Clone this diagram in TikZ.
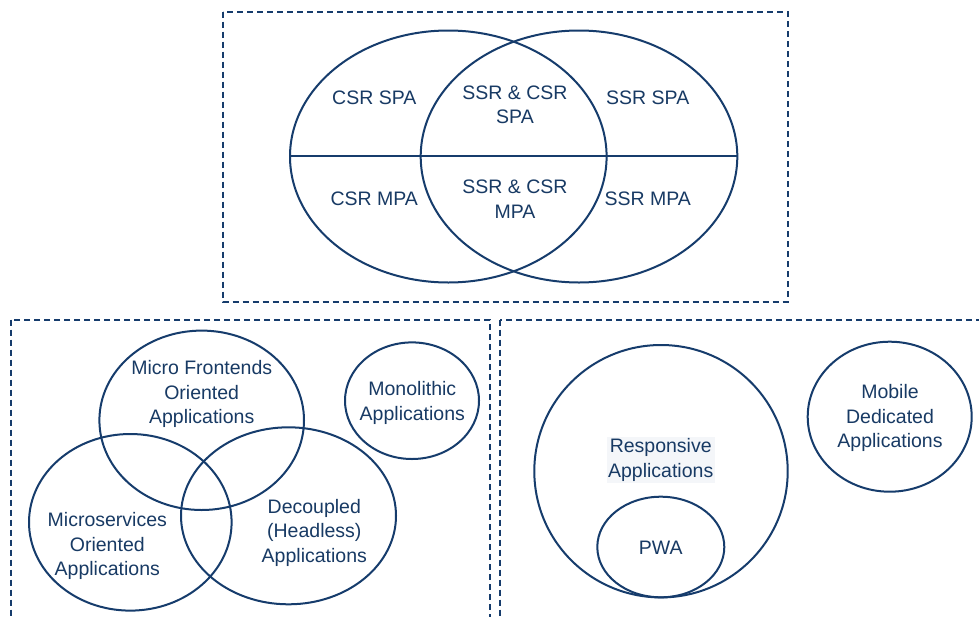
\documentclass[tikz,border=0pt]{standalone}
\usepackage{fontspec}
\setmainfont{Liberation Sans}
\definecolor{navy}{RGB}{22,60,108}
\definecolor{txt}{RGB}{24,58,100}
\definecolor{hl}{RGB}{244,246,249}
\tikzset{
  venn/.style={draw=navy, line width=2pt},
  frame/.style={draw=navy, line width=2pt, dash pattern=on 6pt off 4pt},
  lbl/.style={text=txt, align=center, inner sep=0pt, font=\fontsize{19.5}{24.5}\selectfont}
}
\begin{document}
\begin{tikzpicture}[x=1pt,y=-1pt]
\useasboundingbox (0,0) rectangle (979,616);
\clip (0,0) rectangle (979,616);
\fill[white] (0,0) rectangle (979,616);
% frames
\draw[frame] (222.5,11.5) rectangle (787.5,301.5);
\draw[frame] (11,319.5) rectangle (490,640);
\draw[frame] (499.5,319.5) rectangle (1000,640);
% top venn
\draw[venn] (448.3,156.5) ellipse [x radius=158.3, y radius=126];
\draw[venn] (579,156.5) ellipse [x radius=158.3, y radius=126];
\coordinate (hl) at (290,156);
\coordinate (hr) at (737.3,156);
\draw[venn] (hl) -- (hr);
\node[lbl] (csrspa) at (374.3,97.3) {CSR SPA};
\node[lbl] (csrmpa) at (374.3,199) {CSR MPA};
\node[lbl] (bothspa) at (515,104.7) {SSR \& CSR\\SPA};
\node[lbl] (bothmpa) at (515,199) {SSR \& CSR\\MPA};
\node[lbl] (ssrspa) at (647.7,97.3) {SSR SPA};
\node[lbl] (ssrmpa) at (647.7,199) {SSR MPA};
% bottom left
\draw[venn] (201.7,420.3) ellipse [x radius=102.3, y radius=89.7];
\draw[venn] (130.3,522.3) ellipse [x radius=101.3, y radius=88.3];
\draw[venn] (288.5,515.8) ellipse [x radius=107.5, y radius=88.5];
\draw[venn] (412,400.7) ellipse [x radius=67, y radius=58.3];
\node[lbl] (mfe) at (201.7,394) {Micro Frontends\\Oriented\\Applications};
\node[lbl] (mono) at (412.3,402.8) {Monolithic\\Applications};
\node[lbl] (ms) at (107.3,546.2) {Microservices\\Oriented\\Applications};
\node[lbl] (dec) at (314.3,532.9) {Decoupled\\(Headless)\\Applications};
% bottom right
\draw[venn] (661,471.2) ellipse [x radius=126.7, y radius=126.2];
\draw[venn] (660.8,547) ellipse [x radius=63.5, y radius=50.3];
\draw[venn] (889.7,416.7) ellipse [x radius=82, y radius=75];
\node[lbl, fill=hl, inner sep=1.5pt] (resp) at (660.7,460) {Responsive\\Applications};
\node[lbl] (pwa) at (660.7,547.3) {PWA};
\node[lbl] (mob) at (890,418.4) {Mobile\\Dedicated\\Applications};
\end{tikzpicture}
\end{document}
